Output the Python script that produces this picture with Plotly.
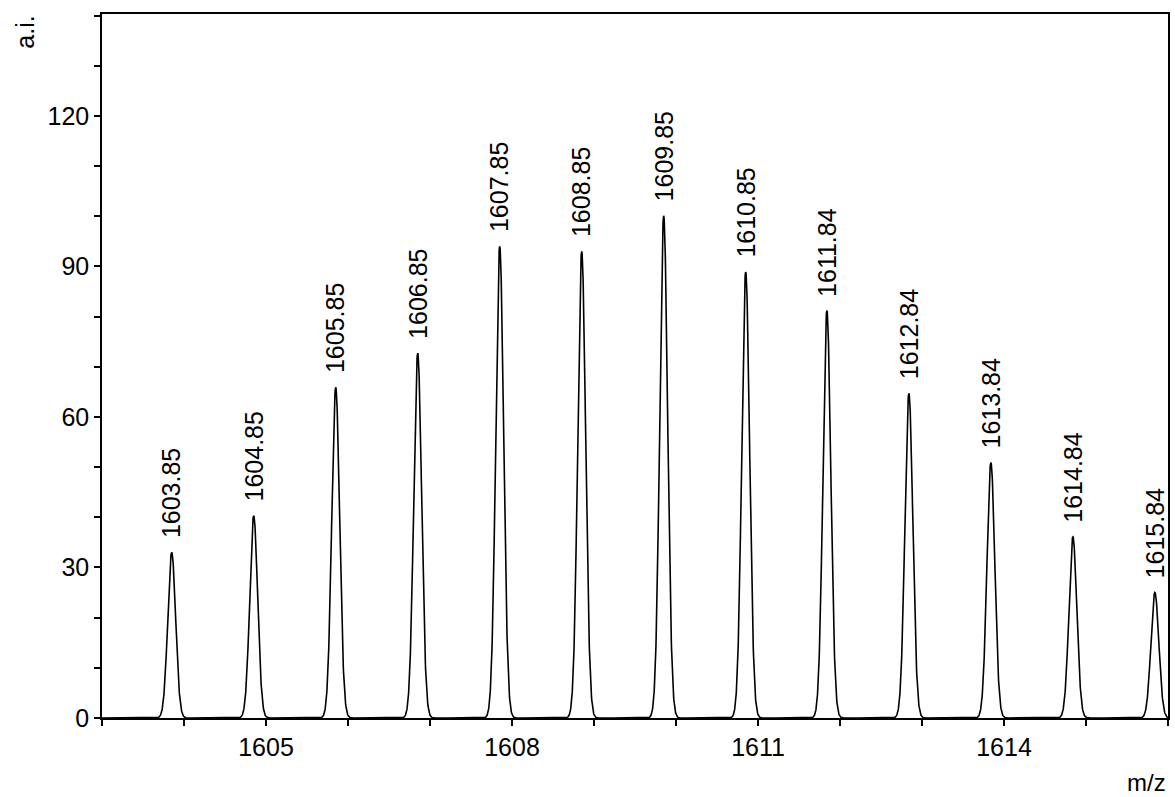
import numpy as np
import plotly.graph_objects as go

# Isotope cluster: centroid m/z and intensity (a.i.)
peak_mz = [1603.85, 1604.85, 1605.85, 1606.85, 1607.85, 1608.85, 1609.85,
           1610.85, 1611.84, 1612.84, 1613.84, 1614.84, 1615.84]
peak_int = [33.0, 40.3, 65.9, 72.7, 94.0, 93.0, 100.1,
            88.9, 81.2, 64.7, 50.9, 36.1, 25.0]
peak_labels = ["1603.85", "1604.85", "1605.85", "1606.85", "1607.85", "1608.85",
               "1609.85", "1610.85", "1611.84", "1612.84", "1613.84", "1614.84",
               "1615.84"]

x_range = [1603.0, 1616.0]
y_range = [0, 140.3]
x_tick_vals = [1605, 1608, 1611, 1614]
y_tick_vals = [0, 30, 60, 90, 120]

# Profile spectrum: each centroid broadened with a Gaussian instrument shape
sigma = 0.048
mz = np.linspace(x_range[0], x_range[1], 6000)
profile = np.zeros_like(mz)
for c, h in zip(peak_mz, peak_int):
    profile += h * np.exp(-0.5 * ((mz - c) / sigma) ** 2)

FONT = "Liberation Sans, Arial, sans-serif"

fig = go.Figure()
fig.add_trace(go.Scatter(x=mz, y=profile, mode="lines",
                         line=dict(color="black", width=1.6),
                         hoverinfo="skip", showlegend=False))

for c, h, t in zip(peak_mz, peak_int, peak_labels):
    fig.add_annotation(x=c, y=h, text=t, showarrow=False, textangle=-90,
                       xanchor="center", yanchor="bottom", yshift=12,
                       font=dict(family=FONT, size=25, color="black"))

fig.add_annotation(x=-0.073, y=1.0, xref="paper", yref="paper", text="a.i.",
                   showarrow=False, textangle=-90, xanchor="center", yanchor="top",
                   font=dict(family=FONT, size=25, color="black"))
fig.add_annotation(x=1.0, y=0, xref="paper", yref="paper", text="m/z",
                   showarrow=False, xanchor="right", yanchor="middle", yshift=-64,
                   font=dict(family=FONT, size=24, color="black"))

axis_common = dict(showgrid=False, zeroline=False, showline=True,
                   linecolor="black", linewidth=1.5, mirror=True,
                   ticks="outside", ticklen=6, tickwidth=1.5, tickcolor="black",
                   tickfont=dict(family=FONT, size=25, color="black"))

fig.update_xaxes(range=x_range, tickvals=x_tick_vals,
                 minor=dict(dtick=1, tick0=1603, ticks="outside", ticklen=6,
                            tickwidth=1.5, tickcolor="black", showgrid=False),
                 **axis_common)
fig.update_yaxes(range=y_range, tickvals=y_tick_vals,
                 minor=dict(dtick=10, tick0=0, ticks="outside", ticklen=6,
                            tickwidth=1.5, tickcolor="black", showgrid=False),
                 **axis_common)

fig.update_layout(width=1175, height=797,
                  margin=dict(l=102, r=5, t=14, b=79),
                  plot_bgcolor="white", paper_bgcolor="white",
                  font=dict(family=FONT, size=25, color="black"))

fig.write_html("out.html")
